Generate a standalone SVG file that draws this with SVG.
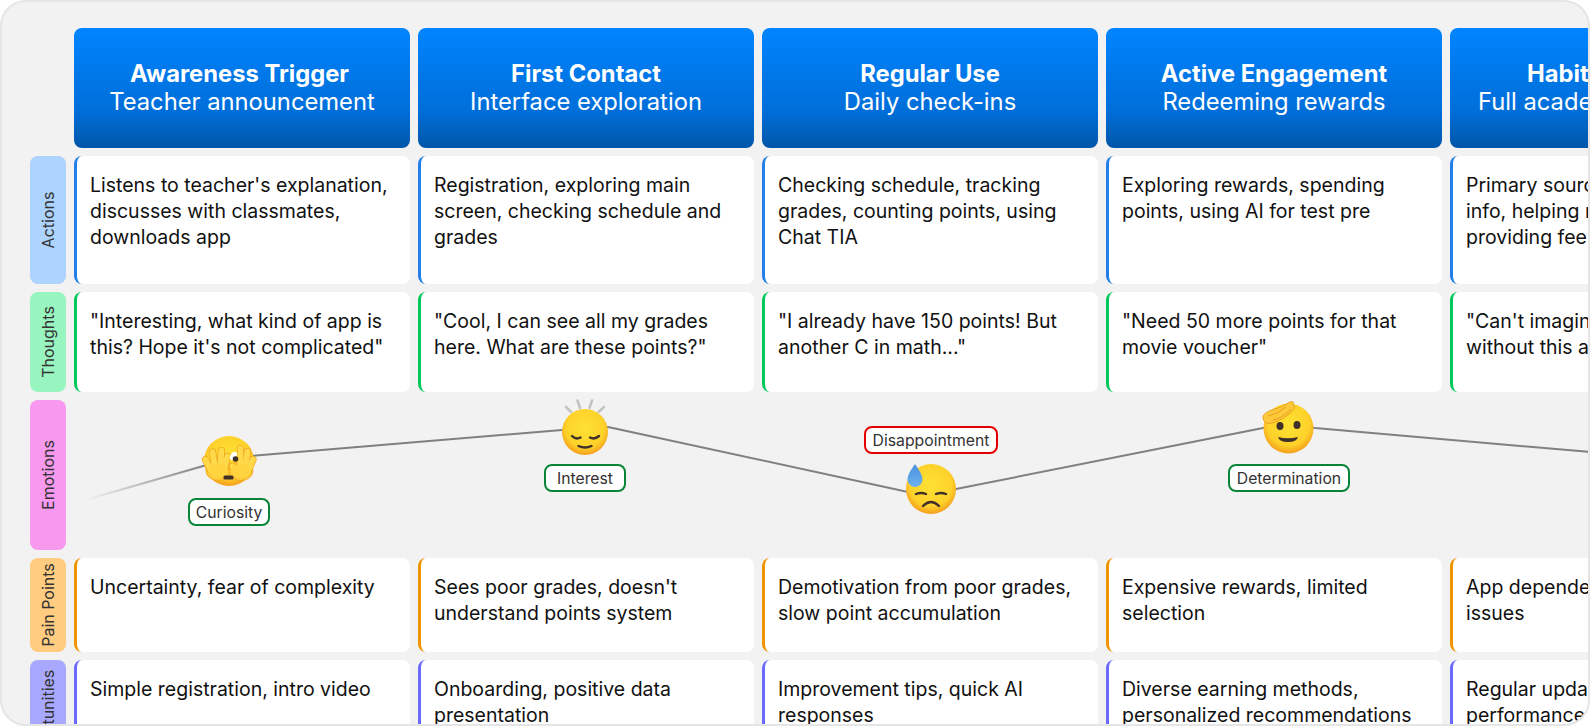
<svg xmlns="http://www.w3.org/2000/svg" width="1590" height="726" viewBox="0 0 1590 726">
<style>
text{font-family:Inter,"Noto Sans","Liberation Sans",sans-serif}
.hb{fill:url(#hg)}
.t1{font-size:23.750px;font-weight:700;fill:#fff;text-anchor:middle}
.t1s{font-size:23.750px;font-weight:700;fill:#fff}
.t2{font-size:23.750px;font-weight:400;fill:#fff;text-anchor:middle}
.t2s{font-size:23.750px;font-weight:400;fill:#fff}
.c{font-size:19.500px;fill:#111}
.l{font-size:16px;fill:#333;text-anchor:middle}
.b{font-size:15.750px;fill:#333;text-anchor:middle}
.bg{fill:#fff;stroke:#0a8537;stroke-width:2}
.br{fill:#fff;stroke:#e60000;stroke-width:2}
.w{fill:#fff}
.face{fill:url(#fg)}
.ln{fill:none;stroke:#40302a;stroke-width:2.400;stroke-linecap:round}
.fo{stroke:#eea41c;stroke-width:7.200;stroke-linecap:round;fill:none}
.ff{stroke:#ffd94a;stroke-width:5.800;stroke-linecap:round;fill:none}
.ra{stroke:#c4c4c4;stroke-width:2.600;stroke-linecap:round}
</style>
<defs>
<clipPath id="frame"><rect x="2" y="2" width="1586" height="722" rx="24"/></clipPath>
<linearGradient id="hg" x1="0" y1="0" x2="0" y2="1"><stop offset="0" stop-color="#0084ff"/><stop offset="0.7" stop-color="#006ed8"/><stop offset="1" stop-color="#0056a8"/></linearGradient>
<radialGradient id="fg" cx="0.5" cy="0.42" r="0.58"><stop offset="0" stop-color="#fee133"/><stop offset="0.72" stop-color="#fdd22a"/><stop offset="1" stop-color="#f59e1c"/></radialGradient>
<linearGradient id="lg" gradientUnits="userSpaceOnUse" x1="85" y1="0" x2="205" y2="0"><stop offset="0" stop-color="#808080" stop-opacity="0"/><stop offset="1" stop-color="#808080"/></linearGradient>
<linearGradient id="dg" x1="0" y1="0" x2="0" y2="1"><stop offset="0" stop-color="#4a90e0"/><stop offset="1" stop-color="#6cb2ee"/></linearGradient>
<path id="fingers" d="M211 471L205.500 459.500M215 468L212.500 452M220 468L221.500 450.500M224 470L227.500 456.500M248 471L253 459.500M245 468L247.500 451.500M240 468L240.500 448.500M236 473L232.500 466"/>
<rect id="hd" width="336" height="120" rx="8" class="hb"/>
<g id="ca"><path d="M8 0A8 8 0 0 0 0 8V120A8 8 0 0 0 8 128Z" fill="#2280e8"/><path class="w" d="M8 0H328A8 8 0 0 1 336 8V120A8 8 0 0 1 328 128H8A5 8 0 0 1 3 120V8A5 8 0 0 1 8 0Z"/></g>
<g id="ct"><path d="M8 0A8 8 0 0 0 0 8V92A8 8 0 0 0 8 100Z" fill="#00c85a"/><path class="w" d="M8 0H328A8 8 0 0 1 336 8V92A8 8 0 0 1 328 100H8A5 8 0 0 1 3 92V8A5 8 0 0 1 8 0Z"/></g>
<g id="cp"><path d="M8 0A8 8 0 0 0 0 8V86A8 8 0 0 0 8 94Z" fill="#f09400"/><path class="w" d="M8 0H328A8 8 0 0 1 336 8V86A8 8 0 0 1 328 94H8A5 8 0 0 1 3 86V8A5 8 0 0 1 8 0Z"/></g>
<g id="co"><path d="M8 0A8 8 0 0 0 0 8V114A8 8 0 0 0 8 122Z" fill="#6a6aff"/><path class="w" d="M8 0H328A8 8 0 0 1 336 8V114A8 8 0 0 1 328 122H8A5 8 0 0 1 3 114V8A5 8 0 0 1 8 0Z"/></g>
</defs>
<rect width="1590" height="726" fill="#fff"/>
<rect x="1" y="1" width="1588" height="724" rx="25" fill="#f2f2f2" stroke="#e5e5e5" stroke-width="2"/>
<g clip-path="url(#frame)">
<g id="headers">
<g id="h1"><use href="#hd" x="74" y="28"/><text class="t1" x="239.500" y="82">Awareness Trigger</text><text class="t2" x="242" y="110">Teacher announcement</text></g>
<g id="h2"><use href="#hd" x="418" y="28"/><text class="t1" x="586" y="82">First Contact</text><text class="t2" x="586" y="110">Interface exploration</text></g>
<g id="h3"><use href="#hd" x="762" y="28"/><text class="t1" x="930" y="82">Regular Use</text><text class="t2" x="930" y="110">Daily check-ins</text></g>
<g id="h4"><use href="#hd" x="1106" y="28"/><text class="t1" x="1274" y="82">Active Engagement</text><text class="t2" x="1274" y="110">Redeeming rewards</text></g>
<g id="h5"><use href="#hd" x="1450" y="28"/><text class="t1s" x="1527" y="82">Habit</text><text class="t2s" x="1478" y="110">Full acade</text></g>
</g>
<g id="labels">
<g id="l-actions"><rect x="30" y="156" width="36" height="128" rx="8" fill="#add4ff"/><text class="l" transform="translate(54 220) rotate(-90)">Actions</text></g>
<g id="l-thoughts"><rect x="30" y="292" width="36" height="100" rx="8" fill="#99f5c0"/><text class="l" transform="translate(54 342) rotate(-90)">Thoughts</text></g>
<g id="l-emotions"><rect x="30" y="400" width="36" height="150" rx="8" fill="#f799ef"/><text class="l" transform="translate(54 475) rotate(-90)">Emotions</text></g>
<g id="l-pain"><rect x="30" y="558" width="36" height="94" rx="8" fill="#ffcc80"/><text class="l" transform="translate(54 605) rotate(-90)">Pain Points</text></g>
<g id="l-opp"><rect x="30" y="660" width="36" height="122" rx="8" fill="#a8a8ff"/><text class="l" transform="translate(54 721) rotate(-90)">Opportunities</text></g>
</g>
<g id="actions">
<g id="a1"><use href="#ca" x="74" y="156"/><text class="c" x="90" y="192">Listens to teacher's explanation,</text><text class="c" x="90" y="218">discusses with classmates,</text><text class="c" x="90" y="244">downloads app</text></g>
<g id="a2"><use href="#ca" x="418" y="156"/><text class="c" x="434" y="192">Registration, exploring main</text><text class="c" x="434" y="218">screen, checking schedule and</text><text class="c" x="434" y="244">grades</text></g>
<g id="a3"><use href="#ca" x="762" y="156"/><text class="c" x="778" y="192">Checking schedule, tracking</text><text class="c" x="778" y="218">grades, counting points, using</text><text class="c" x="778" y="244">Chat TIA</text></g>
<g id="a4"><use href="#ca" x="1106" y="156"/><text class="c" x="1122" y="192">Exploring rewards, spending</text><text class="c" x="1122" y="218">points, using AI for test pre</text></g>
<g id="a5"><use href="#ca" x="1450" y="156"/><text class="c" x="1466" y="192">Primary sourc</text><text class="c" x="1466" y="218">info, helping r</text><text class="c" x="1466" y="244">providing fee</text></g>
</g>
<g id="thoughts">
<g id="t1"><use href="#ct" x="74" y="292"/><text class="c" x="90" y="328">"Interesting, what kind of app is</text><text class="c" x="90" y="354">this? Hope it's not complicated"</text></g>
<g id="t2"><use href="#ct" x="418" y="292"/><text class="c" x="434" y="328">"Cool, I can see all my grades</text><text class="c" x="434" y="354">here. What are these points?"</text></g>
<g id="t3"><use href="#ct" x="762" y="292"/><text class="c" x="778" y="328">"I already have 150 points! But</text><text class="c" x="778" y="354">another C in math..."</text></g>
<g id="t4"><use href="#ct" x="1106" y="292"/><text class="c" x="1122" y="328">"Need 50 more points for that</text><text class="c" x="1122" y="354">movie voucher"</text></g>
<g id="t5"><use href="#ct" x="1450" y="292"/><text class="c" x="1466" y="328">"Can't imagin</text><text class="c" x="1466" y="354">without this a</text></g>
</g>
<g id="connectors">
<path d="M85 500L205 465.500" fill="none" stroke="url(#lg)" stroke-width="2"/>
<path d="M205 465.500L229 459L256 455.500L562 430L585 428L608 426.900L931 497L956 489L1263 428L1288 424L1315 428L1590 452" fill="none" stroke="#808080" stroke-width="2" stroke-linejoin="round"/>
</g>
<g id="pain">
<g id="p1"><use href="#cp" x="74" y="558"/><text class="c" x="90" y="594">Uncertainty, fear of complexity</text></g>
<g id="p2"><use href="#cp" x="418" y="558"/><text class="c" x="434" y="594">Sees poor grades, doesn't</text><text class="c" x="434" y="620">understand points system</text></g>
<g id="p3"><use href="#cp" x="762" y="558"/><text class="c" x="778" y="594">Demotivation from poor grades,</text><text class="c" x="778" y="620">slow point accumulation</text></g>
<g id="p4"><use href="#cp" x="1106" y="558"/><text class="c" x="1122" y="594">Expensive rewards, limited</text><text class="c" x="1122" y="620">selection</text></g>
<g id="p5"><use href="#cp" x="1450" y="558"/><text class="c" x="1466" y="594">App depende</text><text class="c" x="1466" y="620">issues</text></g>
</g>
<g id="opportunities">
<g id="o1"><use href="#co" x="74" y="660"/><text class="c" x="90" y="696">Simple registration, intro video</text></g>
<g id="o2"><use href="#co" x="418" y="660"/><text class="c" x="434" y="696">Onboarding, positive data</text><text class="c" x="434" y="722">presentation</text></g>
<g id="o3"><use href="#co" x="762" y="660"/><text class="c" x="778" y="696">Improvement tips, quick AI</text><text class="c" x="778" y="722">responses</text></g>
<g id="o4"><use href="#co" x="1106" y="660"/><text class="c" x="1122" y="696">Diverse earning methods,</text><text class="c" x="1122" y="722">personalized recommendations</text></g>
<g id="o5"><use href="#co" x="1450" y="660"/><text class="c" x="1466" y="696">Regular upda</text><text class="c" x="1466" y="722">performance</text></g>
</g>
<g id="emotion-curiosity">
<circle class="face" cx="229" cy="461" r="25"/>
<ellipse cx="218" cy="471" rx="12" ry="9.500" fill="#fdcb3a" stroke="#eea41c" stroke-width="0.800"/>
<ellipse cx="241" cy="471" rx="12" ry="9.500" fill="#fdcb3a" stroke="#eea41c" stroke-width="0.800"/>
<use href="#fingers" class="fo"/>
<use href="#fingers" class="ff"/>
<ellipse cx="218" cy="471" rx="10" ry="7" fill="#ffd43e"/>
<ellipse cx="241" cy="471" rx="10" ry="7" fill="#ffd43e"/>
<ellipse cx="233.500" cy="456" rx="3" ry="4.500" transform="rotate(30 233.500 456)" fill="#fff"/>
<circle cx="235.500" cy="459" r="2.800" fill="#40302a"/>
<rect x="223.500" y="475.500" width="10" height="4" rx="1.500" fill="#40302a"/>
<rect class="bg" x="189" y="499" width="80" height="26" rx="7"/><text class="b" x="229" y="517.800">Curiosity</text>
</g>
<g id="emotion-interest">
<g class="ra"><path d="M566 407L571 412"/><path d="M577.500 400.500L580 408"/><path d="M592 400.500L589.500 408"/><path d="M604 407L598.500 412"/></g>
<circle class="face" cx="585" cy="432" r="23"/>
<path class="ln" d="M572 436q4 4 8.500 1.500M590 437.500q4.500 2.500 9-1.500M578.500 446q6.500 3 13 0"/>
<rect class="bg" x="545" y="465" width="80" height="26" rx="7"/><text class="b" x="585" y="483.800">Interest</text>
</g>
<g id="emotion-disappointment">
<rect class="br" x="865" y="427" width="132" height="26" rx="7"/><text class="b" x="931" y="445.800">Disappointment</text>
<circle class="face" cx="931" cy="489" r="25"/>
<path d="M915 464c4 6 7.500 11 7.500 15.500a7.500 7.500 0 0 1-15 0c0-4.500 3.500-9.500 7.500-15.500z" fill="url(#dg)"/>
<path class="ln" d="M916 494q5-2 10 0M936 494q5-2 10 0"/>
<path class="ln" d="M923 506q8-8 16 0" stroke-width="3.200"/>
</g>
<g id="emotion-determination">
<circle class="face" cx="1288.500" cy="428.500" r="25"/>
<ellipse cx="1280" cy="426" rx="3.500" ry="4" fill="#40302a"/><ellipse cx="1297" cy="425" rx="3.500" ry="4" fill="#40302a"/>
<path d="M1278 437q10 2.500 20 0q-1 5-10 5t-10-5z" fill="#40302a"/>
<path d="M1263 416c3-5 12-7 18-9l9-5c3-1 4 0 3 3l1 0c1 2 0 4-2 6c-5 5-12 10-20 12c-5 1-9 0-9-7z" fill="#fdc83a" stroke="#e8a01c" stroke-width="1"/>
<path d="M1268 416q10-2 18-9M1273 420q10-2 18-11" fill="none" stroke="#e8a01c" stroke-width="1"/>
<rect class="bg" x="1229" y="465" width="120" height="26" rx="7"/><text class="b" x="1289" y="483.800">Determination</text>
</g>
</g>
</svg>
